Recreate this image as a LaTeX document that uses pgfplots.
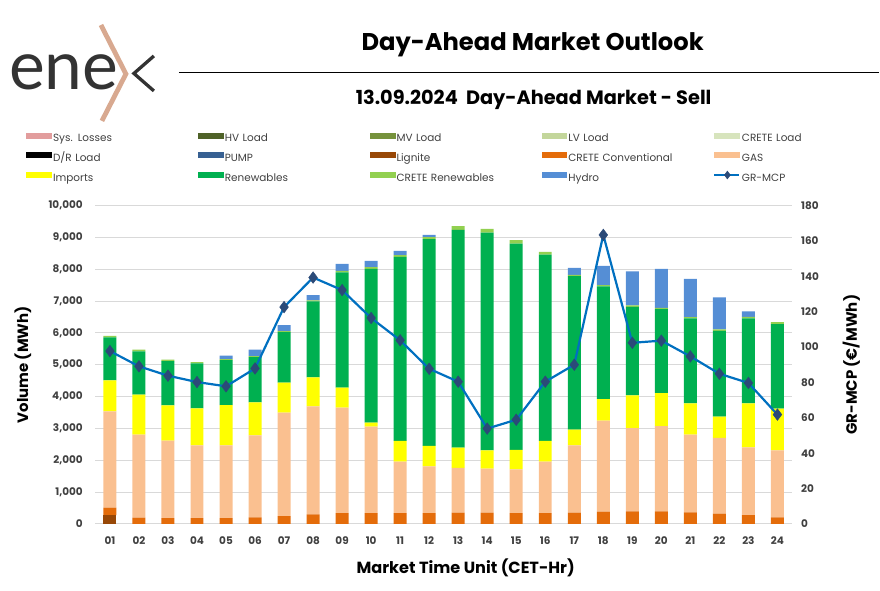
\documentclass[border=0pt]{standalone}
\usepackage{fontspec}
\setmainfont{Poppins}
\newfontfamily\logofont{Lato}
\usepackage{pgfplots}
\usepackage{pgfplotstable}
\pgfplotsset{compat=1.18}

\definecolor{sysloss}{HTML}{E29D9D}
\definecolor{hvload}{HTML}{4F6228}
\definecolor{mvload}{HTML}{76923C}
\definecolor{lvload}{HTML}{C3D69B}
\definecolor{creteload}{HTML}{D7E4BD}
\definecolor{drload}{HTML}{000000}
\definecolor{pump}{HTML}{376092}
\definecolor{lignite}{HTML}{984807}
\definecolor{creteconv}{HTML}{E46C0A}
\definecolor{gas}{HTML}{FAC090}
\definecolor{imports}{HTML}{FFFF00}
\definecolor{renew}{HTML}{00B050}
\definecolor{creteren}{HTML}{92D050}
\definecolor{hydro}{HTML}{558ED5}
\definecolor{mcpline}{HTML}{0070C0}
\definecolor{mcpmark}{HTML}{2B4A78}
\definecolor{ticklab}{HTML}{404040}
\definecolor{gridc}{HTML}{D9D9D9}
\definecolor{chev}{HTML}{D8A990}
\definecolor{logogray}{HTML}{333333}

\pgfplotstableread{
h lig cc gas imp ren crr hyd mcp
1 272 241 3022 973 1350 52 0 97.7
2 0 199 2604 1255 1360 53 0 89.1
3 0 178 2437 1109 1391 42 0 83.8
4 0 178 2291 1161 1412 42 0 80.2
5 0 178 2291 1265 1412 32 104 77.8
6 0 209 2573 1036 1422 32 199 87.9
7 0 241 3253 941 1590 31 189 122.6
8 0 303 3389 910 2385 32 167 139.3
9 0 335 3316 627 3619 53 219 132.2
10 0 335 2719 126 4832 53 198 116.4
11 0 335 1621 649 5784 52 136 103.8
12 0 335 1475 638 6495 63 73 87.7
13 0 356 1401 638 6841 115 0 80.4
14 0 356 1380 576 6841 115 0 53.9
15 0 335 1380 607 6485 105 0 58.9
16 0 335 1621 649 5857 84 0 80.4
17 0 356 2113 491 4822 42 220 90.0
18 0 387 2856 680 3535 42 607 163.4
19 0 397 2615 1026 2782 42 1067 102.4
20 0 397 2678 1036 2636 42 1223 103.6
21 0 366 2437 984 2667 42 1203 94.7
22 0 324 2375 669 2699 42 1004 84.9
23 0 272 2134 1381 2667 52 168 79.7
24 0 209 2103 1307 2657 63 0 61.8
}\data

\newcommand\legbox[1]{\addlegendimage{legend image code/.code={\fill[#1] (0bp,1bp) rectangle (25bp,6bp);}}}

\begin{document}
\begin{tikzpicture}
\begin{scope}[x=1bp,y=1bp]
\path (0,0) rectangle (880,591);
% logo
\node[anchor=base west, inner sep=0, text=logogray, font=\logofont\fontsize{68}{68}\selectfont] at (9,591-90) {ene};
\draw[chev, line width=4.8bp] (101,591-25) -- (126,591-74) -- (102,591-121);
\draw[logogray, line width=3.3bp] (154,591-56) -- (134,591-73.5) -- (154,591-91);
% titles
\node[anchor=base, inner sep=0, font=\bfseries\fontsize{24.3}{24.3}\selectfont] at (533,591-51) {Day-Ahead Market Outlook};
\draw[black, line width=1.3bp] (179,591-72.7) -- (880,591-72.7);
\node[anchor=base, inner sep=0, font=\bfseries\fontsize{19.4}{19.4}\selectfont] at (534,591-105) {13.09.2024\ \ Day-Ahead Market - Sell};
% axis titles
\node[rotate=90, inner sep=0, font=\bfseries\fontsize{15}{15}\selectfont] at (23,591-365) {Volume (MWh)};
\node[rotate=90, inner sep=0, font=\bfseries\fontsize{15}{15}\selectfont] at (852,591-365) {GR-MCP (€/MWh)};
\node[inner sep=0, font=\bfseries\fontsize{16.2}{16.2}\selectfont] at (466,591-568) {Market Time Unit (CET-Hr)};
\end{scope}

\begin{axis}[
  at={(95.5bp,66.7bp)}, anchor=south west,
  scale only axis, width=697bp, height=318.6bp,
  xmin=0.5, xmax=24.5, ymin=0, ymax=10000,
  ybar stacked, bar width=13bp,
  xtick={1,...,24},
  xticklabels={01,02,03,04,05,06,07,08,09,10,11,12,13,14,15,16,17,18,19,20,21,22,23,24},
  ytick={0,1000,...,10000},
  scaled y ticks=false,
  /pgf/number format/.cd, fixed, 1000 sep={,}, assume math mode=true, /pgfplots/.cd,
  axis line style={draw=none},
  major tick length=0,
  ymajorgrids, grid style={gridc, line width=0.9bp},
  tick label style={font=\bfseries\fontsize{10.5}{10.5}\selectfont, text=ticklab, inner sep=0},
  xticklabel style={yshift=-13bp},
  yticklabel style={xshift=-12.5bp},
  legend columns=5,
  legend style={draw=none, fill=none, inner sep=0,
    at={(-0.0997,1.232)}, anchor=north west,
    font=\fontsize{10.5}{10.5}\selectfont, text=ticklab,
    nodes={inner sep=0, text width=136bp, text height=10bp, text depth=4bp, align=left},
    row sep=5.5bp,
    /tikz/every odd column/.append style={column sep=1.5bp},
    /tikz/every even column/.append style={column sep=9bp}},
]
\legbox{sysloss}\addlegendentry{Sys. Losses}
\legbox{hvload}\addlegendentry{HV Load}
\legbox{mvload}\addlegendentry{MV Load}
\legbox{lvload}\addlegendentry{LV Load}
\legbox{creteload}\addlegendentry{CRETE Load}
\legbox{drload}\addlegendentry{D/R Load}
\legbox{pump}\addlegendentry{PUMP}
\legbox{lignite}\addlegendentry{Lignite}
\legbox{creteconv}\addlegendentry{CRETE Conventional}
\legbox{gas}\addlegendentry{GAS}
\legbox{imports}\addlegendentry{Imports}
\legbox{renew}\addlegendentry{Renewables}
\legbox{creteren}\addlegendentry{CRETE Renewables}
\legbox{hydro}\addlegendentry{Hydro}
\addlegendimage{legend image code/.code={\draw[mcpline, line width=2.2bp] (0bp,3.5bp) -- (25bp,3.5bp); \fill[mcpmark] (13bp,-0.5bp) -- (16bp,3.5bp) -- (13bp,7.5bp) -- (10bp,3.5bp) -- cycle;}}
\addlegendentry{GR-MCP}

\addplot[fill=lignite, draw=none, forget plot] table[x=h, y=lig] {\data};
\addplot[fill=creteconv, draw=none, forget plot] table[x=h, y=cc] {\data};
\addplot[fill=gas, draw=none, forget plot] table[x=h, y=gas] {\data};
\addplot[fill=imports, draw=none, forget plot] table[x=h, y=imp] {\data};
\addplot[fill=renew, draw=none, forget plot] table[x=h, y=ren] {\data};
\addplot[fill=creteren, draw=none, forget plot] table[x=h, y=crr] {\data};
\addplot[fill=hydro, draw=none, forget plot] table[x=h, y=hyd] {\data};
\end{axis}

\begin{axis}[
  at={(95.5bp,66.7bp)}, anchor=south west,
  scale only axis, width=697bp, height=318.6bp,
  xmin=0.5, xmax=24.5, ymin=0, ymax=180,
  xtick=\empty,
  ytick={0,20,...,180},
  yticklabel pos=right,
  /pgf/number format/.cd, assume math mode=true, /pgfplots/.cd,
  axis line style={draw=none},
  major tick length=0,
  tick label style={font=\bfseries\fontsize{10.5}{10.5}\selectfont, text=ticklab, inner sep=0},
  yticklabel style={anchor=west, xshift=9bp},
]
\addplot[mcpline, line width=2.2bp, mark=diamond*, mark size=5.8bp, mark options={fill=mcpmark, draw=mcpmark, line width=0.5bp}] table[x=h, y=mcp] {\data};
\end{axis}
\end{tikzpicture}
\end{document}
